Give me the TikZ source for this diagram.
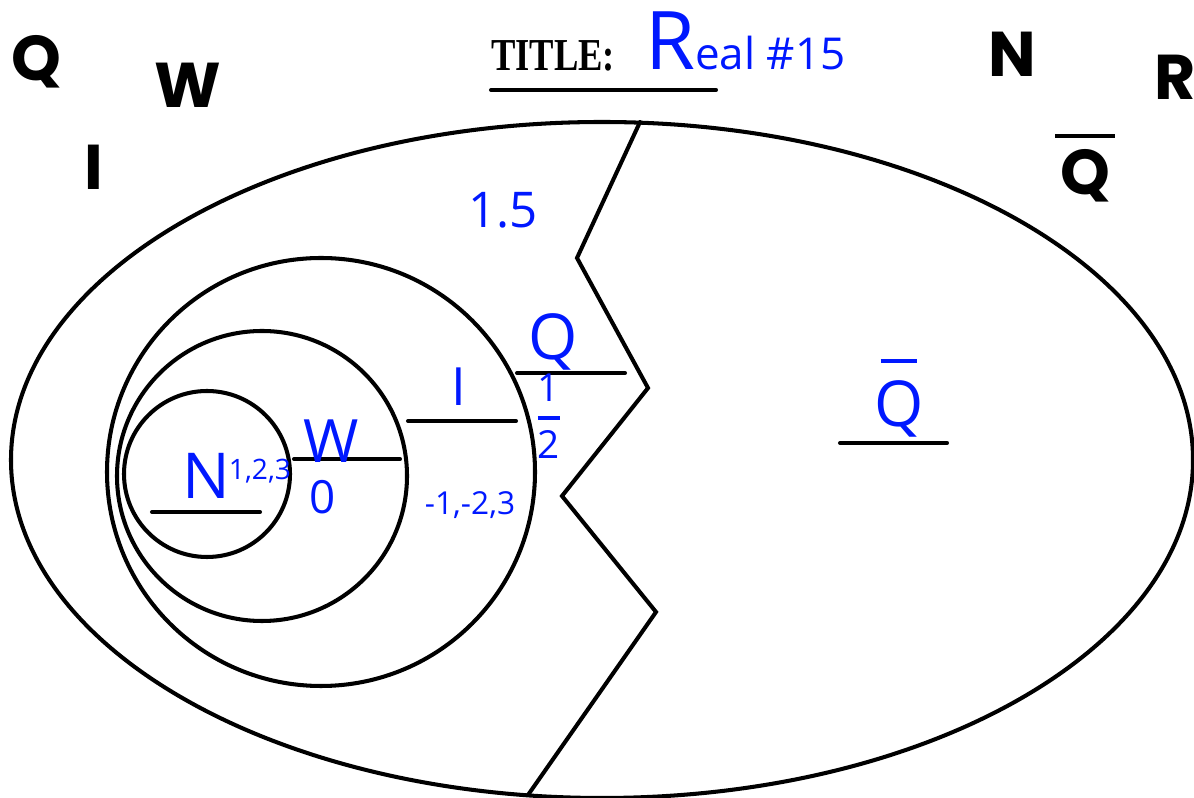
\documentclass[tikz,border=0pt]{standalone}
\usepackage{amsmath}
\usepackage{graphicx}
\usepackage{fontspec}
\setmainfont{Liberation Serif}
\newfontfamily\handfont{Open Sans}
\newfontfamily\letterfont{Poppins}
\definecolor{handblue}{RGB}{0,24,255}
\newcommand{\barred}[3]{\setbox0\hbox{#1}\vbox{\offinterlineskip\hbox to\wd0{\hss\vrule height 1.2pt width #2\hss}\kern#3\box0}}

\begin{document}
\begin{tikzpicture}[x=0.01cm,y=-0.01cm,line width=1.15pt,line cap=round,
  letter/.style={font=\letterfont\bfseries\fontsize{18}{18}\selectfont},
  hand/.style={text=handblue,font=\handfont\fontsize{#1}{#1}\selectfont},
  hand/.default=11]
  \useasboundingbox (0,0) rectangle (1194,798);
  % outer set and the cut between rational and irrational
  \draw (602,460) ellipse [x radius=591, y radius=338];
  \draw (640,122) -- (577,258) -- (648,388) -- (562,496) -- (656,612) -- (528,795);
  \foreach \cx/\cy/\r in {321/472/214, 262/476/145, 207/474/83}
    \draw (\cx,\cy) circle [radius=\r];
  \foreach \xa/\xb/\y in {491/716/90, 152/260/512, 294/400/459, 408/516/421, 517/625/373, 840/947/443}
    \draw (\xa,\y) -- (\xb,\y);
  % title
  \node[font=\bfseries\fontsize{13}{13}\selectfont] (title) at (553,56) {\scalebox{0.8}[1]{TITLE:}};
  \node[hand, anchor=base west, inner sep=0pt] (titletext) at (643,70) {{\fontsize{23}{23}\selectfont R}{\fontsize{12.5}{12.5}\selectfont eal \#15}};
  % set names in the corners
  \node[letter] (lq) at (36,62) {Q};
  \node[letter] (lw) at (188,85) {W};
  \node[letter] (li) at (94,167) {I};
  \node[letter] (ln) at (1012,54) {N};
  \node[letter] (lr) at (1175,77) {R};
  \node[letter] (lqbar) at (1085,168) {\barred{Q}{17pt}{3pt}};
  % handwritten labels
  \node[hand=14] (vdec) at (503,210) {1.5};
  \node[hand=18] (vq) at (553,342) {Q};
  \node[hand] (vhalf) at (549,416) {$\genfrac{}{}{1pt}{0}{\text{1}}{\text{2}}$};
  \node[hand=15] (vi) at (459,387) {I};
  \node[hand=17] (vw) at (331,441) {W};
  \node[hand=13] (vzero) at (323,497) {0};
  \node[hand=18] (vn) at (206,476) {N};
  \node[hand=8] (vnat) at (260,471) {1,2,3};
  \node[hand=9] (vint) at (470,505) {-1,-2,3};
  \node[hand=18] (vqbar) at (899,398) {\barred{Q}{10.5pt}{5pt}};
\end{tikzpicture}
\end{document}
